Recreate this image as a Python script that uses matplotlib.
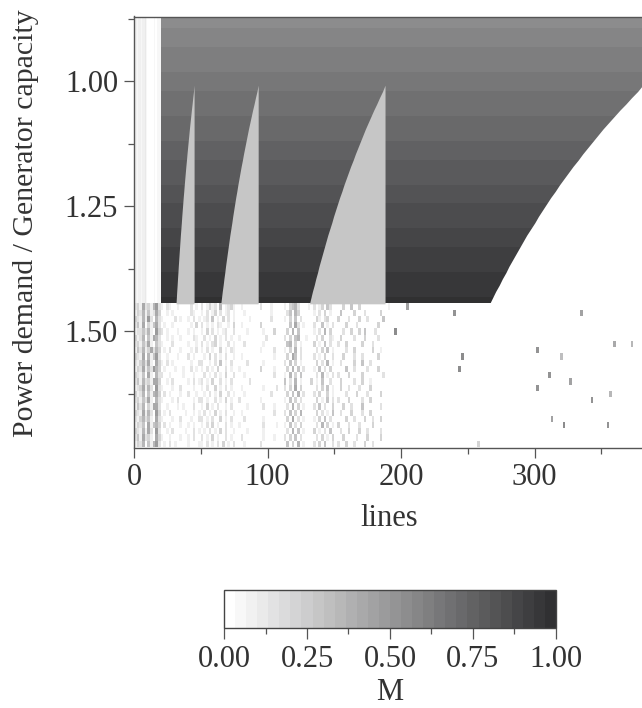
import numpy as np
import matplotlib
matplotlib.use("Agg")
import matplotlib.pyplot as plt
from matplotlib.colors import ListedColormap, Normalize, to_rgb
from matplotlib.ticker import MultipleLocator, FormatStrFormatter

plt.rcParams["font.family"] = ["Liberation Serif", "DejaVu Serif"]

# ---- grid of load ratios (rows) and failed-line counts (columns) ----
load_start = 0.87
load_step = 0.0125
n_lines = 383

# mean M in the stable band (one value per load row, 0.87 .. 1.445)
stable_M = [0.555, 0.564, 0.574, 0.583, 0.592, 0.602, 0.611, 0.620, 0.630, 0.639,
            0.648, 0.658, 0.667, 0.676, 0.686, 0.695, 0.704, 0.714, 0.723, 0.732,
            0.742, 0.751, 0.760, 0.770, 0.779, 0.788, 0.798, 0.807, 0.816, 0.826,
            0.835, 0.844, 0.854, 0.863, 0.872, 0.882, 0.891, 0.900, 0.910, 0.919,
            0.928, 0.938, 0.947, 0.956, 0.966, 0.975]

# relative width of the surviving region below the 1.0075 threshold,
# given at the row edges 1.0075, 1.0200, ..., 1.4450
edge_ratio = [1.000, 0.990, 0.978, 0.967, 0.955, 0.944, 0.933, 0.922, 0.912, 0.902,
              0.892, 0.882, 0.873, 0.863, 0.854, 0.845, 0.836, 0.828, 0.819, 0.811,
              0.803, 0.795, 0.788, 0.780, 0.772, 0.765, 0.758, 0.751, 0.744, 0.737,
              0.731, 0.724, 0.718, 0.711, 0.705, 0.699]
edge_first_load = 1.0075
full_width_lines = 381

# light wedges: line count at their right edge, and their M value
wedge_right_lines = [45, 93, 188]
wedge_M = 0.27

# near-zero strip for the first lines removed
strip_M = [0.08, 0.07, 0.06, 0.08, 0.07, 0.06, 0.07, 0.09, 0.10, 0.05,
           0.03, 0.02, 0.03, 0.02, 0.03, 0.04, 0.03, 0.05, 0.06, 0.04]

# failure band (load > 1.445): each char is a 2-line cell, digit d -> M = 0.07*d
fail_cell_lines = 2
fail_digit_M = 0.07
fail_rows = [
    "2316231572|1.21..1....2.1.|2.1312.5.1231|..1......2...1....|1.3452...1.|2.13.42.|...3..4..3..........1....",
    "1325141263|..1.1......21..|1.2.13.2.12.1|...1.........1....|.24.53.....|1.2.3.1.|..4....3...2.....3.......",
    "3215172.52|1....2.1..1.2.1|.12.4.1.3.2.1|.....1.......2....|1.3.4.2....|.31.23..|.3...2...3..2.....4......",
    "2416.31462|.1..1......1.3.|2.1.1.21..1.3|..1......3........|..4.62.1...|2..4.1.2|....3...2.......3........",
    "1224251.73|2.1...1...1.1..|1.3.2.1.12..2|....1.....1...3...|.3.5.4.....|1.2.5.3.|...2..3..3.4...2.........",
    "3125.41652|..1.1..1....21.|.2.1.3.1.2.1.|.1.........2......|2.3.45..1..|.2.3..21|..3....2...3....2........",
    "2314261.42|1...2.....1..1.|2.1.23.1..2.1|...2......1.......|.45.3.1....|3.1.4.2.|.2..3.....3...2..........",
    "1425136253|.1.2...1...1.2.|1.2.1..3.1.21|.........1....2...|1.3.5.2....|.2.3.4.1|....2..3......3..1.......",
    "3216.51472|..1...1...2.1..|.1.3.2.1.2..1|..1...........1...|.3.64.2....|2.1.3..2|...3...2..2.....3........",
    "2135261.63|1.2.1......1..2|2..1.2.4.1.2.|....2.....1.......|2.4.3.1....|.3.2.5.1|..2....3..4..2...........",
    "1326142753|.1...1..1..2.1.|1.2.1.3..2.1.|.1.......3....1...|.3.5.4.2...|1.4.2.3.|....4..2....2...3........",
    "3214.61.52|2..1....1...1..|.2.1.2.1.3..2|...1..........2...|1.5.3.4....|.2.5.1.2|.2...3....3.......2......",
    "2415231663|..1.2.....1.2.1|2.1.3..2.1.2.|.....2...........|.4.2.5.1...|3.1.4..2|...3....2..3..1..........",
    "1236152.72|1...1..2....1..|1.2..3.1.2.1.|..1.......1....2..|2.3.6.3....|.2.3.4.1|..3..2...2...3...........",
    "3125.41563|.2.1...1..2..1.|.1.2.1.3..2.1|...1.........2....|.3.4.5.2...|2.3..3.1|....2...3...2....3.......",
    "2314261.52|1...1.2.....1.2|2.1..2.1.3.1.|.2.......1........|1.4.3.2....|.3.1.4.2|.2...3....2..3..........",
    "1425.31662|..1...1.1...2..|1.3.1.2..1.2.|....1.....2...1...|.2.5.3.1...|2.4.2..3|...3..2...4......2.......",
    "3216152.73|.1.2.....1..1.1|.2.1.3.1.2..1|..1...........2...|2.4.3.5....|.3.2.1.4|..2...3...2..3...........",
    "2135241.62|1...1..2...1..2|2.1.2..3.1.2.|...2......1.......|.3.6.2.1...|1.3.4.2.|....3..2...3..2..3.......",
    "1324.61453|.2.1...1..1.1..|1.2.3.1..2.1.|.1........2....1..|1.4.2.3....|.2.5.3.1|.3...2...2....3...........",
    "3215162.72|..1.2....1..2.1|.1.2.1.3.2..1|....1.....1.......|.2.5.4.1...|3.1.2.4.|..2..3...3..2....2.......",
    "2416231.63|1..1...1..1.2..|2.1.3.1..2.1.|..2.......1...1...|2.3.4.2....|.2.3.1.3|...3....2...3....3.......",
    "1325.41572|.1.2.1....1...1|1.2.1.2.3.1.2|...1.....2........|.4.3.5.1...|2.3.4..2|.2..3..2...3..2..........",
]

# isolated failures far out on the line axis
sparse_lines = [204, 239, 195, 334, 245, 301, 359, 372, 319, 243,
                310, 326, 301, 342, 356, 312, 321, 354, 257]
sparse_loads = [1.452, 1.470, 1.496, 1.462, 1.548, 1.538, 1.522, 1.530, 1.556, 1.582,
                1.590, 1.600, 1.616, 1.635, 1.627, 1.680, 1.693, 1.687, 1.727]
sparse_M = [0.45, 0.50, 0.55, 0.45, 0.55, 0.50, 0.40, 0.35, 0.30, 0.55,
            0.50, 0.45, 0.50, 0.50, 0.35, 0.45, 0.55, 0.50, 0.20]

# ---- assemble the M matrix ----
n_stable = len(stable_M)
n_rows = n_stable + len(fail_rows)
Z = np.zeros((n_rows, n_lines))
n_strip = len(strip_M)
for k, m in enumerate(stable_M):
    Z[k, n_strip:] = m
    Z[k, :n_strip] = strip_M

n_cells = 100
for j, row in enumerate(fail_rows):
    cells = row.replace("|", "").ljust(n_cells, ".")[:n_cells]
    for c, ch in enumerate(cells):
        if ch != ".":
            Z[n_stable + j, c * fail_cell_lines:(c + 1) * fail_cell_lines] = int(ch) * fail_digit_M

for x, y, m in zip(sparse_lines, sparse_loads, sparse_M):
    k = int((y - load_start) / load_step)
    if 0 <= k < n_rows:
        Z[k, x:x + 2] = m

load_end = load_start + n_rows * load_step
edge_loads = edge_first_load + load_step * np.arange(len(edge_ratio))
ratio = np.array(edge_ratio)

# stepped grey colormap, white -> charcoal
n_levels = 30
c0 = np.array(to_rgb("#ffffff"))
c1 = np.array(to_rgb("#303032"))
cmap = ListedColormap([c0 + (c1 - c0) * t for t in np.linspace(0, 1, n_levels)])
norm = Normalize(0, 1)

W, H = 642, 708
fig = plt.figure(figsize=(W / 100, H / 100), dpi=100)
ax = fig.add_axes([134 / W, (H - 447.5) / H, 511 / W, 431 / H])

im = ax.imshow(Z, extent=(0, n_lines, load_end, load_start), aspect="auto",
               interpolation="nearest", cmap=cmap, norm=norm)

# light wedges inside the stable band
for w in wedge_right_lines:
    ax.fill_betweenx(edge_loads, w * ratio, w, color=cmap(norm(wedge_M)),
                     linewidth=0, zorder=2)
# beyond the surviving width the grid stays empty
ax.fill_betweenx(edge_loads, full_width_lines * ratio, n_lines + 5, color="white",
                 linewidth=0, zorder=2)

ax.set_xlim(0, 382.7)
ax.set_ylim(load_end, load_start)

text_color = "#333333"
spine_color = "#555555"
for s in ax.spines.values():
    s.set_color(spine_color)
    s.set_linewidth(1.0)
    s.set_zorder(5)

ax.xaxis.set_major_locator(MultipleLocator(100))
ax.xaxis.set_minor_locator(MultipleLocator(50))
ax.set_yticks([1.00, 1.25, 1.50])
ax.yaxis.set_minor_locator(MultipleLocator(0.125))
ax.yaxis.set_major_formatter(FormatStrFormatter("%.2f"))
ax.tick_params(which="major", length=7.5, width=0.9, color=spine_color,
               labelsize=22, labelcolor=text_color, pad=4)
ax.tick_params(which="minor", length=4.5, width=0.9, color=spine_color)

ax.set_xlabel("lines", fontsize=22, color=text_color, labelpad=8)
ax.set_ylabel("Power demand / Generator capacity", fontsize=21.5, color=text_color)
ax.yaxis.set_label_coords(-0.185, 0.52)

cax = fig.add_axes([224 / W, (H - 628) / H, 332 / W, 38 / H])
cb = fig.colorbar(im, cax=cax, orientation="horizontal", ticks=[0, 0.25, 0.5, 0.75, 1.0])
cb.outline.set_edgecolor("#444444")
cb.outline.set_linewidth(1.0)
cax.xaxis.set_minor_locator(MultipleLocator(0.125))
cax.xaxis.set_major_formatter(FormatStrFormatter("%.2f"))
cax.tick_params(which="major", length=8, width=0.9, color=spine_color,
                labelsize=22, labelcolor=text_color, pad=4)
cax.tick_params(which="minor", length=4.5, width=0.9, color=spine_color)
cb.set_label("M", fontsize=22, color=text_color, labelpad=3)

fig.savefig("out.png", dpi=100)
